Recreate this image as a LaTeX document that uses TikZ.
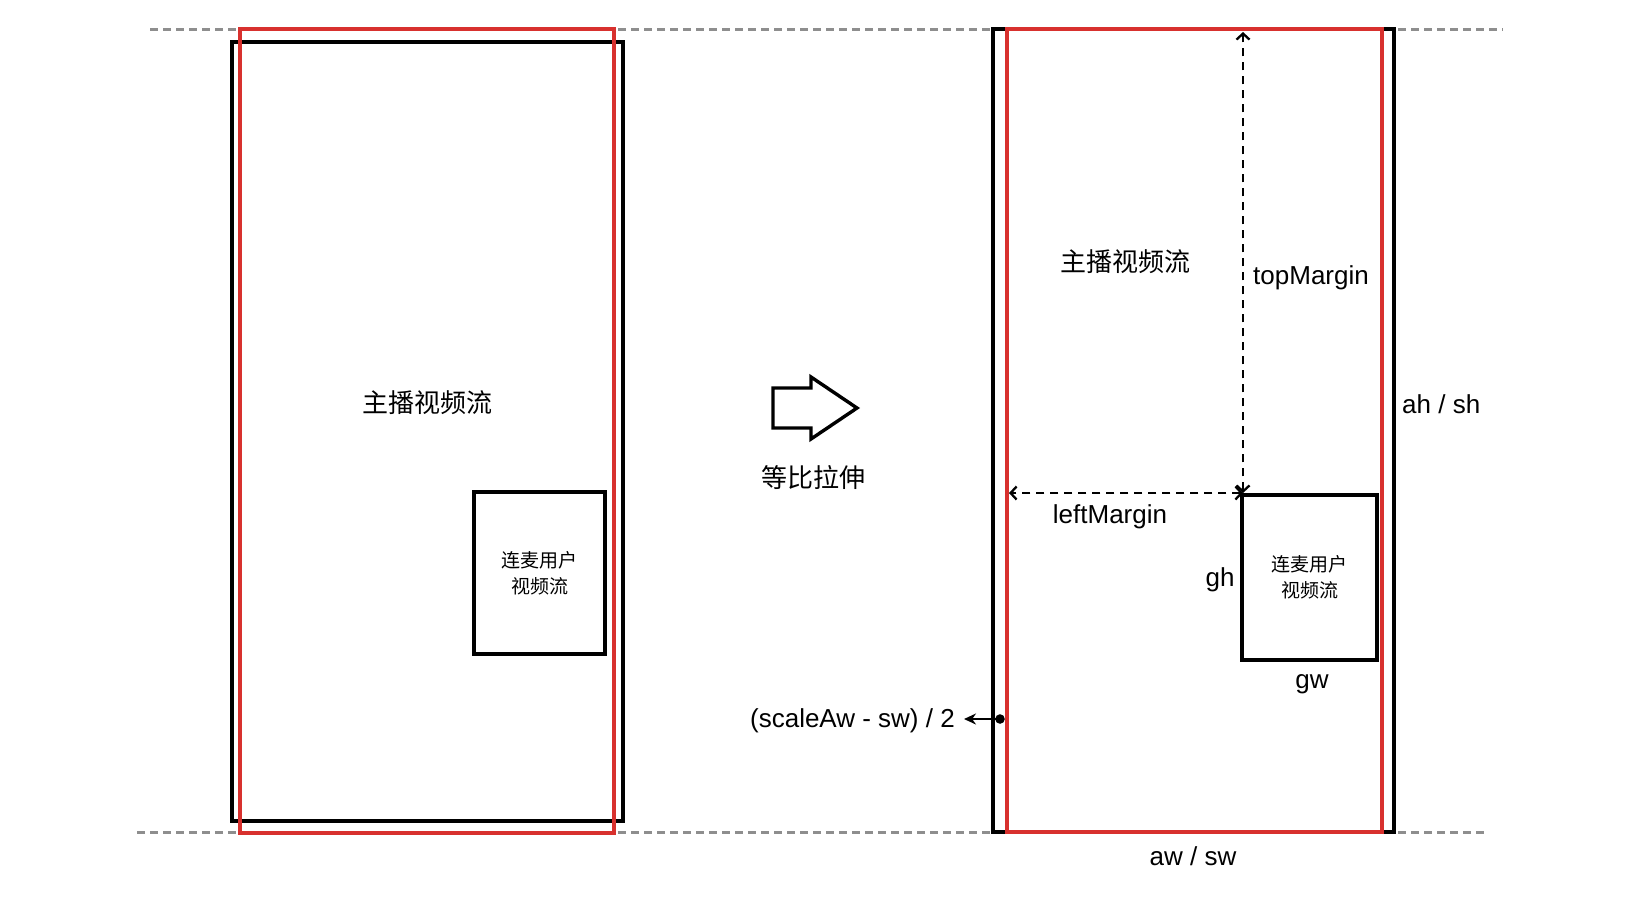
\documentclass[tikz,border=0pt]{standalone}
\usepackage{fontspec}
\setmainfont{Liberation Sans}
\newfontfamily\cjk{Noto Sans CJK SC}
\usetikzlibrary{arrows.meta}
\definecolor{redline}{HTML}{D8312E}
\definecolor{guide}{HTML}{8E8E8E}
\begin{document}
\begin{tikzpicture}[x=1pt,y=-1pt,
  blackbox/.style={draw=black, line width=3.6pt, inner sep=0pt, outer sep=0pt},
  redbox/.style={draw=redline, line width=3.3pt, inner sep=0pt, outer sep=0pt},
  guideline/.style={draw=guide, line width=3pt, dash pattern=on 7.5pt off 5.5pt},
  dimline/.style={draw=black, line width=2.3pt, dash pattern=on 8pt off 6pt, {Straight Barb[length=6pt,width=13pt]}-{Straight Barb[length=6pt,width=13pt]}},
  lbl/.style={font=\fontsize{26}{31}\selectfont, inner sep=0pt},
  cjklbl/.style={font=\fontsize{26}{31}\selectfont\cjk, inner sep=0pt},
  smalltxt/.style={font=\fontsize{19}{26}\selectfont\cjk, align=center, inner sep=0pt}
]
\useasboundingbox (0,0) rectangle (1640,898);
\fill[white] (0,0) rectangle (1640,898);

% guide lines
\coordinate (gTL) at (150,29);
\coordinate (gTR) at (1503,29);
\coordinate (gBL) at (137,832);
\coordinate (gBR) at (1488,832);
\draw[guideline] (gTL) -- (gTR);
\draw[guideline] (gBL) -- (gBR);

% left side
\node[blackbox, minimum width=391pt, minimum height=779pt] (lblack) at (427.5,431.5) {};
\node[redbox, minimum width=374pt, minimum height=804pt] (lred) at (427,431) {};
\node[blackbox, minimum width=131pt, minimum height=162pt, smalltxt] (lsmall) at (539.5,573) {连麦用户\\视频流};
\node[cjklbl] (lmain) at (427,403) {主播视频流};

% middle arrow
\draw[line width=3.4pt, line join=miter] (773,388) -- (811,388) -- (811,377) -- (857,408) -- (811,439) -- (811,428) -- (773,428) -- cycle;
\node[cjklbl] (stretch) at (813,478) {等比拉伸};

% right side
\node[blackbox, minimum width=401pt, minimum height=803pt] (rblack) at (1193.5,430.5) {};
\node[redbox, minimum width=375pt, minimum height=803pt] (rred) at (1194.5,430.5) {};
\node[blackbox, minimum width=135pt, minimum height=165pt, smalltxt] (rsmall) at (1309.5,577.5) {连麦用户\\视频流};
\node[cjklbl] (rmain) at (1125,262) {主播视频流};

% dimension arrows
\coordinate (corner) at (1243,493);
\coordinate (topTip) at (1243,32);
\coordinate (leftTip) at (1009,493);
\draw[dimline] (corner) -- (topTip);
\draw[dimline] (corner) -- (leftTip);

\node[lbl, anchor=west] (topm) at (1253,278) {topMargin};
\node[lbl] (leftm) at (1110,517) {leftMargin};
\node[lbl] (gh) at (1220,580) {gh};
\node[lbl] (gw) at (1312,684) {gw};
\node[lbl, anchor=west] (ah) at (1402,404) {ah / sh};
\node[lbl] (aw) at (1193,856) {aw / sw};

% offset arrow
\coordinate (dot) at (1000,719);
\coordinate (dotTip) at (964,719);
\fill (dot) circle (4.8pt);
\draw[line width=2.3pt, -{Stealth[length=12pt,width=11pt]}] (dot) -- (dotTip);
\node[lbl, anchor=east] (offs) at (955,721) {(scaleAw - sw) / 2};
\end{tikzpicture}
\end{document}
